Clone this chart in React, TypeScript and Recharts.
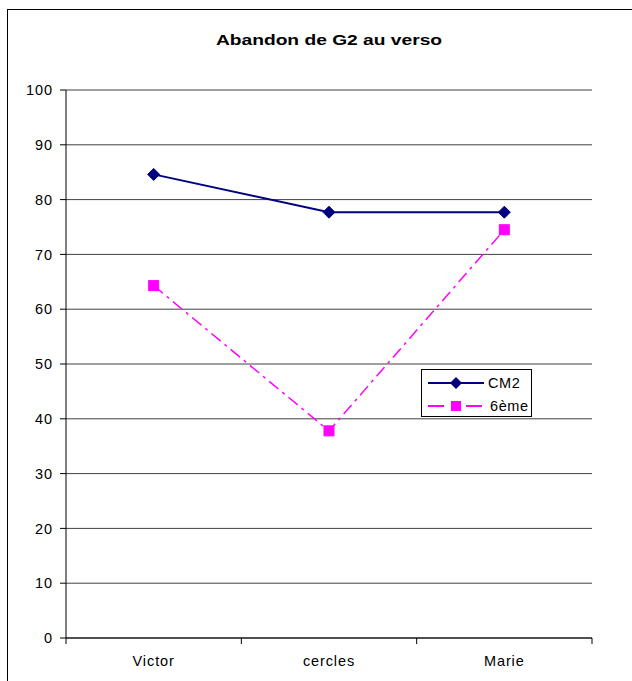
import React from 'react';
import { LineChart, Line, XAxis, YAxis, CartesianGrid, Legend } from 'recharts';

const categories = ['Victor', 'cercles', 'Marie'];
const cm2Values = [84.6, 77.7, 77.7];
const sixiemeValues = [64.3, 37.8, 74.5];
const yTicks = [0, 10, 20, 30, 40, 50, 60, 70, 80, 90, 100];

const data = categories.map((c, i) => ({ name: c, CM2: cm2Values[i], six: sixiemeValues[i] }));

const FONT = '"Liberation Sans", Arial, sans-serif';

const Diamond = (props: any) => {
  const { cx, cy } = props;
  if (cx == null || cy == null) return null;
  const r = 6;
  return <path d={`M${cx},${cy - r}L${cx + r},${cy}L${cx},${cy + r}L${cx - r},${cy}Z`} fill="#000080" stroke="#000080" />;
};

const Square = (props: any) => {
  const { cx, cy } = props;
  if (cx == null || cy == null) return null;
  const s = 5;
  return <rect x={cx - s} y={cy - s} width={2 * s} height={2 * s} fill="#FF00FF" stroke="#FF00FF" />;
};

const CategoryTick = (props: any) => {
  const { x, y, payload, index, width, visibleTicksCount } = props;
  const half = payload && payload.offset ? payload.offset : width / (visibleTicksCount || 3) / 2;
  return (
    <g>
      <line x1={x + half} y1={y - 2} x2={x + half} y2={y + 4} stroke="#000" />
      {index === 0 ? <line x1={x - half} y1={y - 2} x2={x - half} y2={y + 4} stroke="#000" /> : null}
      <text x={x} y={y + 26} textAnchor="middle" fontSize={14.5} fontFamily={FONT} fill="#000" letterSpacing={0.9}>
        {payload.value}
      </text>
    </g>
  );
};

const LegendContent = () => (
  <svg width={111} height={48} style={{ display: 'block' }}>
    <line x1={6} y1={13} x2={62} y2={13} stroke="#000080" strokeWidth={2} />
    <path d="M34,7L40,13L34,19L28,13Z" fill="#000080" />
    <text x={66} y={18} fontSize={14.5} fontFamily={FONT} fill="#000" letterSpacing={0.6}>CM2</text>
    <line x1={6} y1={36} x2={62} y2={36} stroke="#FF00FF" strokeWidth={2} strokeDasharray="16 8 6 8" />
    <rect x={29} y={31} width={10} height={10} fill="#FF00FF" />
    <text x={68} y={41} fontSize={14.5} fontFamily={FONT} fill="#000" letterSpacing={0.6}>6ème</text>
  </svg>
);

export default function App() {
  return (
    <div style={{ position: 'absolute', left: 0, top: 0, width: 632, height: 681, overflow: 'hidden', background: '#fff' }}>
      <div style={{ position: 'absolute', left: 7, top: 9, width: 700, height: 700, border: '1px solid #000', boxSizing: 'border-box' }} />
      <div style={{ position: 'absolute', left: 66, width: 526, top: 31, textAlign: 'center', fontFamily: FONT, fontWeight: 'bold', fontSize: 15, color: '#000', transform: 'scaleX(1.28)' }}>
        Abandon de G2 au verso
      </div>
      <div style={{ position: 'absolute', left: 0, top: 0 }}>
        <LineChart width={632} height={681} data={data} margin={{ top: 90, right: 40, bottom: 13, left: 14 }}>
          <CartesianGrid vertical={false} stroke="#404040" />
          <XAxis dataKey="name" scale="band" height={30} stroke="#000" tickLine={false} tickSize={0}
            tick={<CategoryTick />} interval={0} />
          <YAxis domain={[0, 100]} ticks={yTicks} width={52} stroke="#000" tickSize={6} tickMargin={7}
            tick={{ fontSize: 14.5, fontFamily: FONT, fill: '#000', letterSpacing: 0.9 }} interval={0} />
          <YAxis yAxisId="r" orientation="right" width={0} stroke="#808080" tick={false} tickLine={false} />
          <Legend content={LegendContent} layout="vertical" align="center" verticalAlign="middle"
            wrapperStyle={{ position: 'absolute', left: 421, top: 369, width: 111, height: 48, border: '1px solid #000', background: '#fff', boxSizing: 'border-box' }} />
          <Line dataKey="CM2" stroke="#000080" strokeWidth={2} dot={<Diamond />} activeDot={false} isAnimationActive={false} />
          <Line dataKey="six" name="6ème" stroke="#FF00FF" strokeWidth={1.5} strokeDasharray="12 5 3 5" dot={<Square />} activeDot={false} isAnimationActive={false} />
        </LineChart>
      </div>
    </div>
  );
}
